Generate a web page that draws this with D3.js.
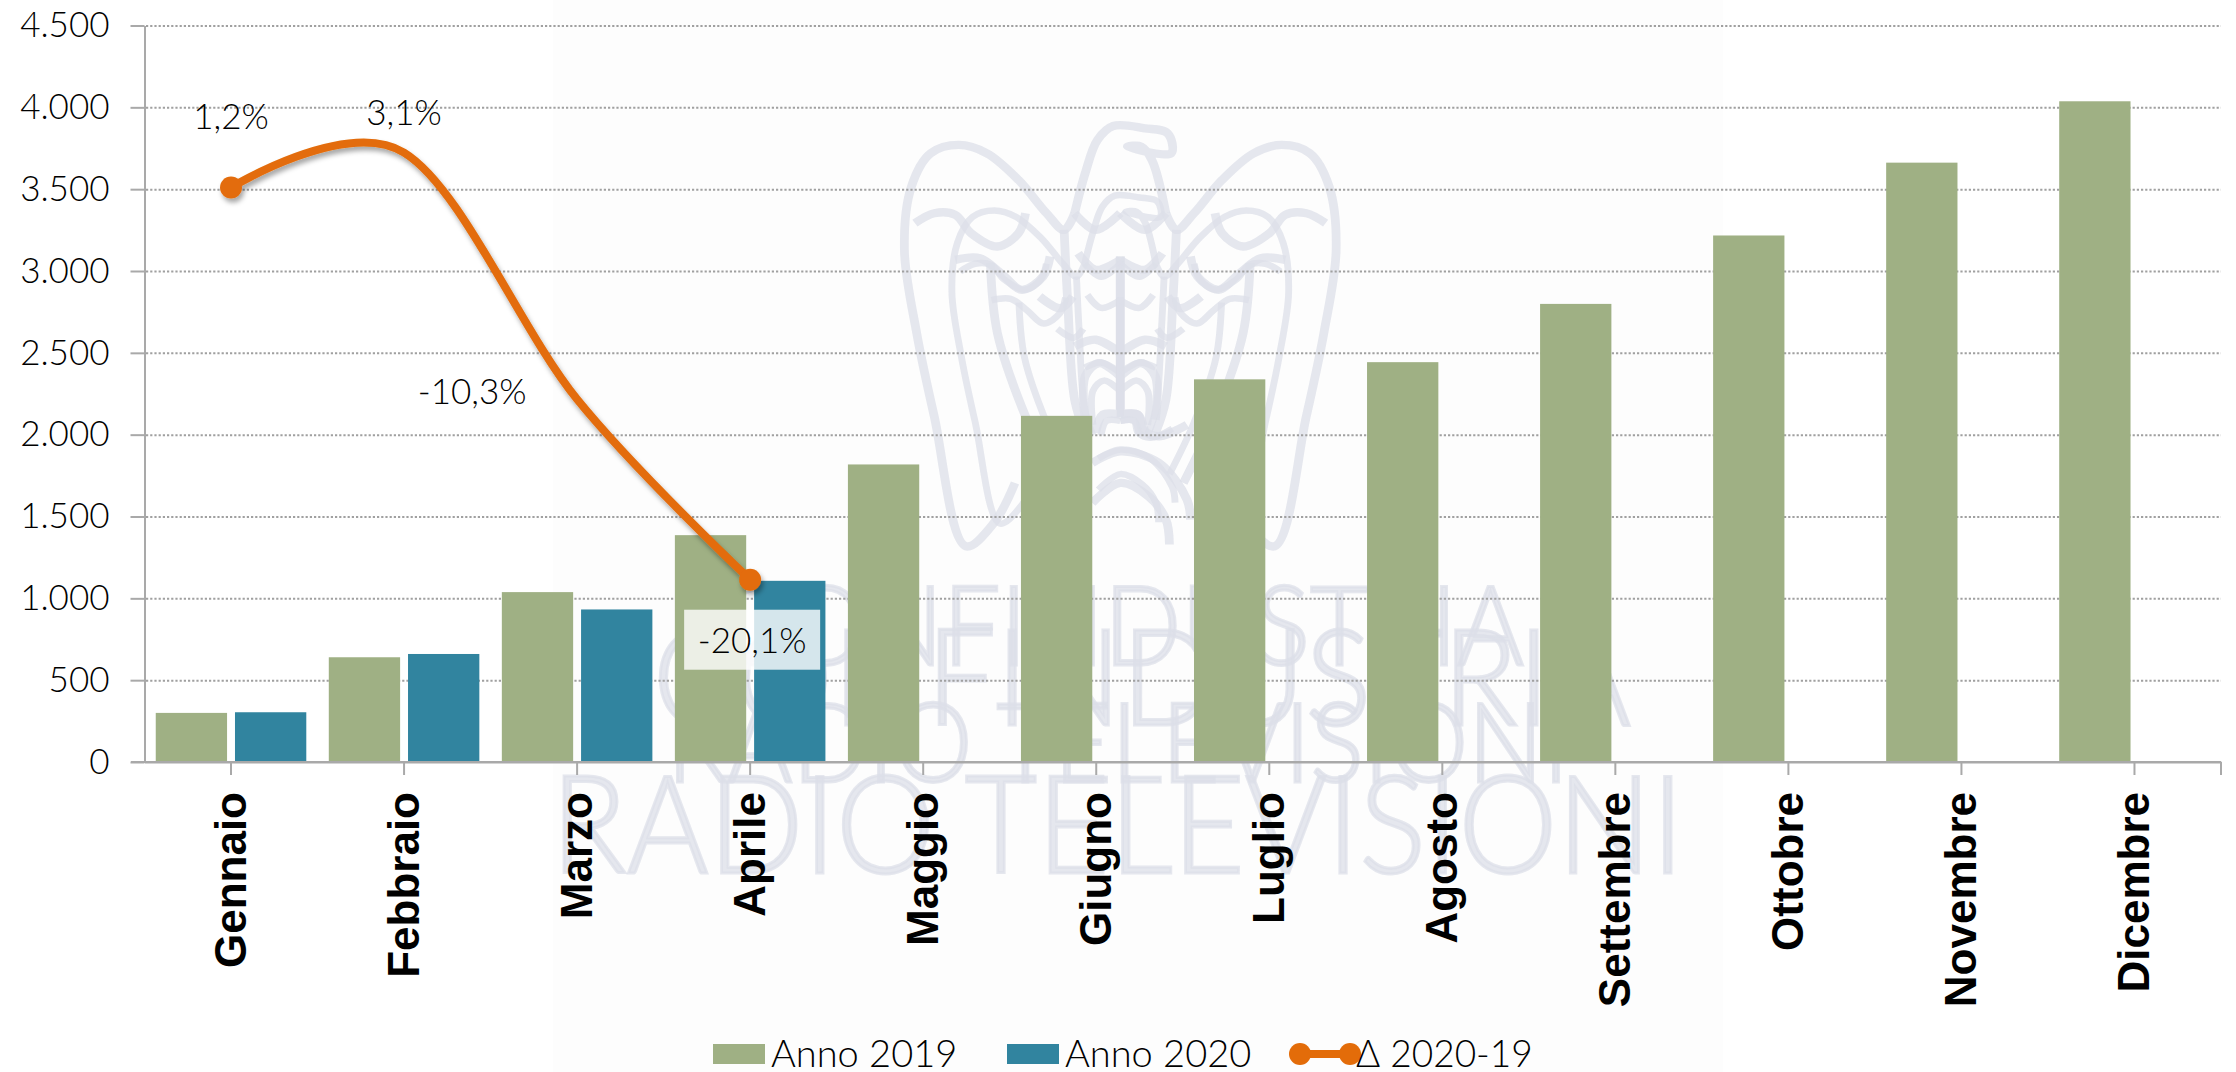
<!DOCTYPE html>
<html lang="it">
<head>
    <meta charset="UTF-8">
    <title>Anno 2019 - Anno 2020</title>
    <script src="https://d3js.org/d3.v7.min.js"></script>
    <style>
        body { margin: 0; background: #fff; }
        svg { display: block; }
        text { font-family: Lato, "Open Sans", sans-serif; font-weight: 300; fill: #000; }
        .axis path, .axis line { stroke: #a9a9a9; stroke-width: 2; }
        .grid line { stroke: #a0a0a0; stroke-width: 2; stroke-dasharray: 2.2 2; }
        .grid path { display: none; }
        .months text { font-family: "Liberation Sans", Arial, sans-serif; font-weight: bold; font-size: 44px; fill: #000; }
        .wm-text { font-weight: 300; fill: #dcdfe8; fill-opacity: .75; stroke: #dcdfe8; stroke-opacity: .75; stroke-width: 3; }
        .wm-line { fill: none; stroke: #dcdfe8; stroke-opacity: .75; stroke-width: 25; }
    </style>
</head>
<body>
<script>

    var months = ["Gennaio", "Febbraio", "Marzo", "Aprile", "Maggio", "Giugno",
        "Luglio", "Agosto", "Settembre", "Ottobre", "Novembre", "Dicembre"];
    var anno2019 = [300, 640, 1038, 1386, 1818, 2115, 2338, 2443, 2799, 3217, 3662, 4037];
    var anno2020 = [304, 660, 932, 1107];
    var delta = [1.2, 3.1, -10.3, -20.1];
    var yTicks = [0, 500, 1000, 1500, 2000, 2500, 3000, 3500, 4000, 4500];

    var width = 2236,
        height = 1072;

    var colors = {"2019": "#9fb084", "2020": "#31849f", delta: "#e36c09"};

    var it = d3.formatLocale({decimal: ",", thousands: ".", grouping: [3], currency: ["", " €"], minus: "-"});
    var fmtThousands = it.format(",d"),
        fmtDelta = it.format(".1f");

    var svg = d3.select("body").append("svg")
        .attr("width", width)
        .attr("height", height);

    var x = d3.scaleBand().domain(months).range([144.5, 2221]).paddingInner(0.13).paddingOuter(0.065);
    var xSeries = d3.scaleBand().domain(["2019", "2020"]).range([0, x.bandwidth()]).paddingInner(0.1);
    var y = d3.scaleLinear().domain([0, 4500]).range([762, 25.5]);
    // hidden secondary axis of the line
    var yDelta = d3.scaleLinear().domain([-30, 10]).range([762, 25.5]);

    var defs = svg.append("defs");
    defs.append("filter").attr("id", "shadow")
        .attr("x", "-10%").attr("y", "-10%").attr("width", "120%").attr("height", "120%")
        .append("feDropShadow")
        .attr("dx", 2).attr("dy", 4).attr("stdDeviation", 2.5)
        .attr("flood-color", "#000").attr("flood-opacity", 0.35);

    // watermark behind the chart
    svg.append("rect").attr("x", 553).attr("y", 0).attr("width", 1170).attr("height", height).attr("fill", "#fdfdfd");

    var wmText = [
        {t: "CONFINDUSTRIA", x: 718, y: 665, size: 111, w: 806},
        {t: "CONFINDUSTRIA", x: 653, y: 725, size: 134, w: 978},
        {t: "RADIO TELEVISIONI", x: 667, y: 782, size: 110, w: 902},
        {t: "RADIO TELEVISIONI", x: 551, y: 873, size: 136, w: 1133}
    ];
    var wm = svg.append("g");
    wm.selectAll("text").data(wmText).enter().append("text")
        .attr("class", "wm-text")
        .attr("x", function(d) { return d.x; })
        .attr("y", function(d) { return d.y; })
        .attr("font-size", function(d) { return d.size; })
        .attr("textLength", function(d) { return d.w; })
        .attr("lengthAdjust", "spacingAndGlyphs")
        .text(function(d) { return d.t; });

    // eagle outline, half of it, mirrored around x=770
    var eagleHalf = [
        [[640, 340], [610, 390], [560, 340], [480, 240], [390, 160], [310, 135], [230, 160], [175, 260], [155, 450], [190, 700], [240, 950], [330, 1340], [410, 1270], [470, 1150]],
        [[185, 370], [240, 340], [300, 345], [345, 400], [420, 440], [480, 400], [500, 340]],
        [[300, 480], [370, 475], [430, 520], [490, 570], [550, 530], [570, 470]],
        [[400, 490], [420, 700], [500, 950], [590, 1150]],
        [[540, 590], [600, 625], [635, 590]],
        [[610, 390], [620, 600], [640, 900], [670, 1000]],
        [[640, 340], [700, 390], [770, 340]],
        [[650, 460], [700, 510], [770, 480]],
        [[640, 740], [700, 720], [770, 760]],
        [[670, 960], [670, 830], [710, 790], [770, 830]],
        [[770, 470], [770, 930]],
        [[700, 1000], [720, 945], [770, 945]]
    ];
    var eagleRight = [
        [[690, 1090], [770, 1055], [880, 1090], [960, 1200], [970, 1260]],
        [[690, 1210], [770, 1150], [850, 1190], [900, 1260], [910, 1335]],
        [[770, 945], [820, 945], [835, 990], [880, 1010], [960, 975]]
    ];
    var eagleHead = [[900, 340], [860, 180], [830, 140], [790, 140], [915, 160], [905, 100], [840, 85], [750, 78], [705, 120], [670, 220], [640, 340]];
    var eagleLine = d3.line().curve(d3.curveCatmullRom);

    function drawEagle(transform) {
        var g = wm.append("g").attr("class", "wm-line").attr("transform", transform);
        g.selectAll(".l").data(eagleHalf).enter().append("path").attr("class", "l").attr("d", eagleLine);
        g.append("g").attr("transform", "translate(1540,0) scale(-1,1)")
            .selectAll("path").data(eagleHalf).enter().append("path").attr("d", eagleLine);
        g.selectAll(".r").data(eagleRight).enter().append("path").attr("class", "r").attr("d", eagleLine);
        g.append("path").datum(eagleHead).attr("d", eagleLine);
    }
    drawEagle("translate(850,100) scale(0.351,0.333)");
    drawEagle("translate(850,100) scale(0.351,0.333) translate(770,285) scale(0.78) translate(-770,-75)");

    // grid
    svg.append("g").attr("class", "grid")
        .attr("transform", "translate(146,0)")
        .call(d3.axisLeft(y).tickValues(yTicks.slice(1)).tickSize(-2075).tickFormat(""));

    // y axis
    var yAxis = svg.append("g").attr("class", "axis")
        .attr("transform", "translate(144.5,0)")
        .call(d3.axisLeft(y).tickValues(yTicks).tickSize(14).tickSizeOuter(0).tickPadding(21).tickFormat(fmtThousands));
    yAxis.selectAll("text").attr("font-size", 35);

    // bars
    var series = [
        {key: "2019", values: anno2019},
        {key: "2020", values: anno2020}
    ];
    svg.selectAll(".serie").data(series).enter().append("g")
        .attr("class", "serie")
        .attr("fill", function(d) { return colors[d.key]; })
        .selectAll("rect")
        .data(function(d) {
            return d.values.map(function(v, i) { return {key: d.key, month: months[i], value: v}; });
        })
        .enter().append("rect")
        .attr("x", function(d) { return x(d.month) + xSeries(d.key); })
        .attr("y", function(d) { return y(d.value); })
        .attr("width", xSeries.bandwidth())
        .attr("height", function(d) { return y(0) - y(d.value); });

    // x axis
    var xAxis = svg.append("g").attr("class", "axis months")
        .attr("transform", "translate(0,762)")
        .call(d3.axisBottom(x).tickSize(13).tickSizeOuter(0));
    xAxis.selectAll("text")
        .attr("transform", "translate(-1,30) rotate(-90)")
        .attr("x", 0).attr("y", 0).attr("dy", "0.36em")
        .style("text-anchor", "end");
    xAxis.append("line").attr("x1", 2221).attr("x2", 2221).attr("y1", 0).attr("y2", 13);
    xAxis.append("line").attr("x1", 131).attr("x2", 2221).attr("y1", 0).attr("y2", 0);

    // delta line
    var line = d3.line()
        .x(function(d, i) { return x(months[i]) + x.bandwidth() / 2; })
        .y(function(d) { return yDelta(d); })
        .curve(d3.curveCardinal.tension(0));

    var lineG = svg.append("g").attr("filter", "url(#shadow)");
    lineG.append("path").datum(delta)
        .attr("d", line)
        .attr("fill", "none")
        .attr("stroke", colors.delta)
        .attr("stroke-width", 8)
        .attr("stroke-linecap", "round");
    lineG.selectAll("circle").data([0, delta.length - 1]).enter().append("circle")
        .attr("cx", function(i) { return x(months[i]) + x.bandwidth() / 2; })
        .attr("cy", function(i) { return yDelta(delta[i]); })
        .attr("r", 11)
        .attr("fill", colors.delta);

    // delta labels, moved off the line by hand as in the original
    var labelShift = [[0, -71], [0, -40], [-105, -8], [2, 61]];
    var labels = svg.append("g").selectAll("g").data(delta).enter().append("g")
        .attr("transform", function(d, i) {
            return "translate(" + (x(months[i]) + x.bandwidth() / 2 + labelShift[i][0]) + "," + (yDelta(d) + labelShift[i][1]) + ")";
        });
    labels.filter(function(d, i) { return i === 3; }).append("rect")
        .attr("x", -68).attr("y", -31).attr("width", 136).attr("height", 60)
        .attr("fill", "#fff").attr("fill-opacity", 0.8);
    labels.append("text")
        .attr("text-anchor", "middle")
        .attr("dy", "0.36em")
        .attr("font-size", 35)
        .text(function(d) { return fmtDelta(d) + "%"; });

    // legend
    var legend = svg.append("g");
    var legendItems = [
        {key: "2019", label: "Anno 2019", x: 713},
        {key: "2020", label: "Anno 2020", x: 1007}
    ];
    legendItems.forEach(function(d) {
        legend.append("rect").attr("x", d.x).attr("y", 1044).attr("width", 52).attr("height", 20).attr("fill", colors[d.key]);
        legend.append("text").attr("x", d.x + 58).attr("y", 1067).attr("font-size", 38).text(d.label);
    });
    legend.append("line").attr("x1", 1300).attr("x2", 1350).attr("y1", 1054).attr("y2", 1054)
        .attr("stroke", colors.delta).attr("stroke-width", 8);
    legend.selectAll("circle").data([1300, 1350]).enter().append("circle")
        .attr("cx", function(d) { return d; }).attr("cy", 1054).attr("r", 11).attr("fill", colors.delta);
    legend.append("text").attr("x", 1356).attr("y", 1067).attr("font-size", 37).text("Δ 2020-19");

</script>
</body>
</html>
